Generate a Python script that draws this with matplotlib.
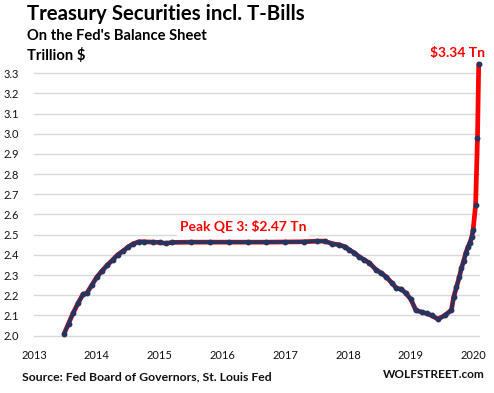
import matplotlib
matplotlib.use("Agg")
import matplotlib.pyplot as plt

# Data (decimal year, trillion $)
years = [2013.48, 2013.55, 2013.62, 2013.70, 2013.78, 2013.84, 2013.92, 2014.00,
         2014.08, 2014.17, 2014.25, 2014.33, 2014.42, 2014.50, 2014.58, 2014.67,
         2014.75, 2014.90, 2015.00, 2015.10, 2015.20, 2015.50, 2015.80, 2016.10,
         2016.40, 2016.70, 2017.00, 2017.30, 2017.50, 2017.63, 2017.75, 2017.86,
         2017.95, 2018.02, 2018.10, 2018.18, 2018.26, 2018.34, 2018.45, 2018.53,
         2018.61, 2018.70, 2018.77, 2018.85, 2018.92, 2019.00, 2019.08, 2019.17,
         2019.25, 2019.33, 2019.43, 2019.54, 2019.645, 2019.68, 2019.725, 2019.77,
         2019.805, 2019.84, 2019.874, 2019.91, 2019.938, 2019.97, 2019.99,
         2020.03, 2020.06, 2020.08]
values = [2.01, 2.06, 2.11, 2.16, 2.205, 2.21, 2.25, 2.29,
          2.32, 2.35, 2.375, 2.40, 2.42, 2.44, 2.455, 2.465,
          2.465, 2.463, 2.462, 2.457, 2.462, 2.463, 2.463, 2.463,
          2.463, 2.463, 2.464, 2.465, 2.468, 2.468, 2.455, 2.45,
          2.44, 2.425, 2.41, 2.39, 2.375, 2.36, 2.325, 2.31,
          2.29, 2.26, 2.235, 2.23, 2.21, 2.18, 2.125, 2.117,
          2.11, 2.10, 2.082, 2.10, 2.127, 2.19, 2.24, 2.29,
          2.335, 2.37, 2.41, 2.44, 2.46, 2.49, 2.523,
          2.647, 2.98, 3.345]
y_ticks = [2.0, 2.1, 2.2, 2.3, 2.4, 2.5, 2.6, 2.7, 2.8, 2.9, 3.0, 3.1, 3.2, 3.3]
x_ticks = [2013, 2014, 2015, 2016, 2017, 2018, 2019, 2020]

title = "Treasury Securities incl. T-Bills"
subtitle1 = "On the Fed's Balance Sheet"
subtitle2 = "Trillion $"
peak_label = "Peak QE 3: $2.47 Tn"
end_label = "$3.34 Tn"
source = "Source: Fed Board of Governors, St. Louis Fed"
brand = "WOLFSTREET.com"

RED = "#ff0000"
NAVY = "#233560"
W, H = 494, 393

plt.rcParams['font.family'] = ['Lato', 'DejaVu Sans']
fig = plt.figure(figsize=(W / 100, H / 100), dpi=100)
ax = fig.add_axes([34 / W, (H - 337.7) / H, (480 - 34) / W, (337.7 - 61) / H])
ax.set_xlim(2013, 2020.10)
ax.set_ylim(1.99, 3.36)
ax.set_yticks(y_ticks)
ax.set_yticklabels([f"{v:.1f}" for v in y_ticks])
ax.set_xticks(x_ticks)
ax.set_xticklabels([str(v) for v in x_ticks])
ax.tick_params(length=0, labelsize=8, colors="#111111")
ax.tick_params(axis='y', pad=11)
ax.tick_params(axis='x', pad=9)
for s in ax.spines.values():
    s.set_visible(False)
ax.grid(axis='y', color="#d9d9d9", lw=1)
ax.set_axisbelow(True)

nav_end = values.index(2.523) + 1
ax.plot(years, values, color=RED, lw=3.4, clip_on=False, zorder=3, solid_capstyle='round')
ax.plot(years[:nav_end], values[:nav_end], color=NAVY, lw=2.6, clip_on=False, zorder=4)
ax.plot(years, values, ls='none', marker='o', ms=3.2, color=NAVY, clip_on=False, zorder=5)

def px(x, y):
    return x / W, 1 - y / H

fig.text(*px(27, 20), title, fontsize=14.7, fontweight='bold', va='baseline', ha='left')
fig.text(*px(27, 40), subtitle1, fontsize=10.6, fontweight='bold', va='baseline', ha='left')
fig.text(*px(27, 60), subtitle2, fontsize=10.6, fontweight='bold', va='baseline', ha='left')
fig.text(*px(485, 57), end_label, fontsize=10, fontweight='bold', color=RED, va='baseline', ha='right')
fig.text(*px(180, 231), peak_label, fontsize=10, fontweight='bold', color=RED, va='baseline', ha='left',
         bbox=dict(facecolor='white', edgecolor='none', pad=2))
fig.text(*px(22, 380), source, fontsize=8.8, fontweight='bold', color="#111111", va='baseline', ha='left')
fig.text(*px(485, 378), brand, fontsize=8.5, fontweight='bold', color="#111111", va='baseline', ha='right')

fig.savefig("out.png", dpi=100)
